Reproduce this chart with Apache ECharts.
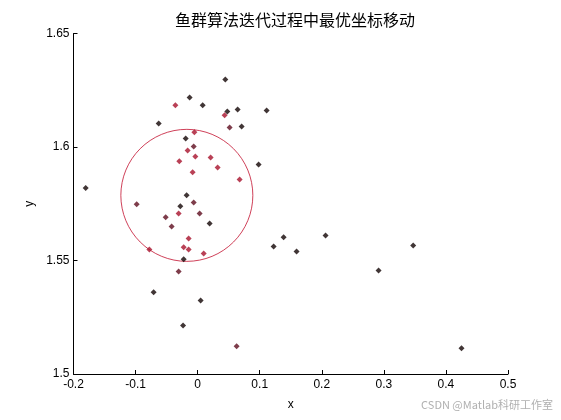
<!DOCTYPE html>
<html>
<head>
<meta charset="utf-8">
<script src="https://cdn.jsdelivr.net/npm/echarts@6/dist/echarts.min.js"></script>
<style>
  html, body { margin: 0; padding: 0; background: #fff; }
  #chart { width: 561px; height: 420px; }
</style>
</head>
<body>
<div id="chart"></div>
<script>
// 各点坐标（按颜色分组）
const blackPts = [
  [0.0446, 1.6297], [-0.0129, 1.6218], [0.0081, 1.6184], [0.0644, 1.6165],
  [0.0478, 1.6156], [0.1111, 1.6161], [-0.0628, 1.6103], [0.0709, 1.6090],
  [-0.0193, 1.6037], [0.0982, 1.5923], [-0.1804, 1.5819], [-0.0177, 1.5787],
  [-0.0279, 1.5739], [0.0193, 1.5663], [-0.0225, 1.5505], [0.1224, 1.5562],
  [-0.0709, 1.5360], [0.0048, 1.5324], [-0.0235, 1.5214], [0.1385, 1.5602],
  [0.1594, 1.5540], [0.2061, 1.5610], [0.3473, 1.5566], [0.2915, 1.5456],
  [0.4251, 1.5113]
]
const darkRedPts = [
  [0.0515, 1.6086], [-0.0064, 1.6002], [-0.0982, 1.5748], [-0.0064, 1.5756],
  [0.0032, 1.5707], [-0.0515, 1.5691], [-0.0419, 1.5650], [-0.0306, 1.5452],
  [0.0628, 1.5122]
]
const redPts = [
  [-0.0359, 1.6184], [0.0435, 1.6140], [-0.0053, 1.6065], [-0.0161, 1.5985],
  [-0.0037, 1.5958], [-0.0295, 1.5937], [0.0209, 1.5954], [0.0322, 1.5910],
  [-0.0081, 1.5889], [0.0676, 1.5857], [-0.0306, 1.5707], [-0.0145, 1.5597],
  [-0.0225, 1.5558], [-0.0145, 1.5549], [-0.0778, 1.5549], [0.0097, 1.5531]
]
// 圆心
const circleCenter = [[-0.0174, 1.5787]]

const myChart = echarts.init(document.getElementById('chart'))
const axisText = { color: '#000', fontSize: 12, fontFamily: 'Liberation Sans, Arial, sans-serif' }

myChart.setOption({
  backgroundColor: '#fff',
  animation: false,
  title: {
    text: '鱼群算法迭代过程中最优坐标移动',
    left: 290,
    textAlign: 'center',
    top: 7,
    textStyle: { color: '#000', fontSize: 16, fontWeight: 'normal', fontFamily: 'Noto Sans CJK SC' }
  },
  grid: { left: 73.5, right: 53, top: 33.5, bottom: 46 },
  xAxis: {
    type: 'value',
    min: -0.2,
    max: 0.5,
    interval: 0.1,
    name: 'x',
    nameLocation: 'middle',
    nameGap: 25,
    nameTextStyle: axisText,
    axisLine: { onZero: false, lineStyle: { color: '#000', width: 1 } },
    axisTick: { inside: true, length: 4, lineStyle: { color: '#000' } },
    axisLabel: Object.assign({ margin: 5 }, axisText),
    splitLine: { show: false }
  },
  yAxis: {
    type: 'value',
    min: 1.5,
    max: 1.65,
    interval: 0.05,
    name: 'y',
    nameLocation: 'middle',
    nameGap: 36,
    nameTextStyle: axisText,
    axisLine: { onZero: false, lineStyle: { color: '#000', width: 1 } },
    axisTick: { inside: true, length: 4, lineStyle: { color: '#000' } },
    axisLabel: Object.assign({ margin: 4 }, axisText),
    splitLine: { show: false }
  },
  series: [
    {
      name: '圆',
      type: 'scatter',
      data: circleCenter,
      symbol: 'circle',
      symbolSize: 132,
      silent: true,
      itemStyle: { color: 'none', borderColor: '#c3122f', borderWidth: 1 }
    },
    {
      name: '黑',
      type: 'scatter',
      data: blackPts,
      symbol: 'diamond',
      symbolSize: 6,
      itemStyle: { color: '#120404' }
    },
    {
      name: '暗红',
      type: 'scatter',
      data: darkRedPts,
      symbol: 'diamond',
      symbolSize: 6,
      itemStyle: { color: '#5e0c1e' }
    },
    {
      name: '红',
      type: 'scatter',
      data: redPts,
      symbol: 'diamond',
      symbolSize: 6,
      itemStyle: { color: '#a8122c' }
    }
  ],
  graphic: [
    {
      type: 'text',
      right: 8,
      bottom: 10,
      style: { text: 'CSDN @Matlab科研工作室', fill: '#b0b0b0', fontSize: 11, fontFamily: 'Noto Sans CJK SC' }
    }
  ]
})
</script>
</body>
</html>
